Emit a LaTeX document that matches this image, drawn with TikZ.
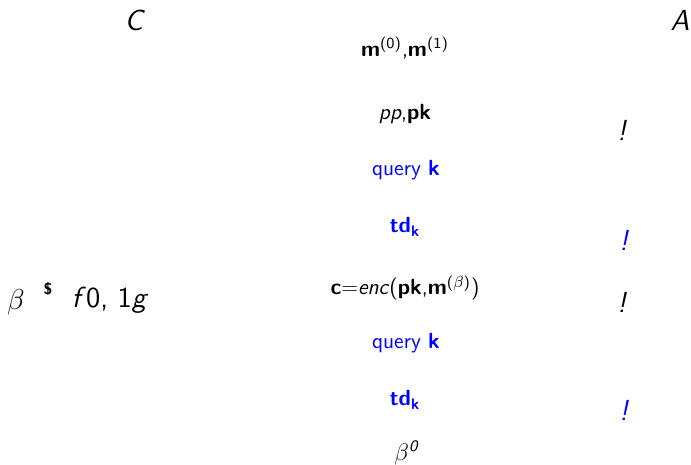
\documentclass[tikz,border=0pt]{standalone}
\begin{document}
\begin{tikzpicture}[x=0.5pt,y=-0.5pt,
  lbl/.style={font=\sffamily\fontsize{11}{13}\selectfont, inner sep=0pt},
  qry/.style={lbl, text=blue},
  party/.style={font=\sffamily\fontsize{14.5}{17}\selectfont, inner sep=0pt},
  bang/.style={party},
  bangq/.style={party, text=blue}]
\useasboundingbox (0,0) rectangle (691,465);

% parties
\node[party] (C) at (135,20) {\textsl{C}};
\node[party] (A) at (680,20) {\textsl{A}};

% challenger's coin
\node[party, font=\fontsize{15}{18}\selectfont] (beta) at (16,302) {$\beta$};
\node[lbl, font=\sffamily\bfseries\fontsize{8}{9}\selectfont] (dollar) at (48,289) {\$};
\node[party] (set) at (110,300) {\textsl{f}0, 1\textsl{g}};

% exchanged messages
\node[lbl] (msgs) at (405,48) {\textbf{m}\textsuperscript{(0)},\textbf{m}\textsuperscript{(1)}};
\node[lbl] (keys) at (405,114) {\textsl{pp},\textbf{pk}};
\node[qry] (q1) at (406,170) {query \textbf{k}};
\node[qry] (td1) at (405,227) {\textbf{td\textsubscript{k}}};
\node[lbl] (ct) at (405,288) {\textbf{c}=\textsl{enc}(\textbf{pk},\textbf{m}\textsuperscript{($\beta$)})};
\node[qry] (q2) at (406,343) {query \textbf{k}};
\node[qry] (td2) at (405,400) {\textbf{td\textsubscript{k}}};
\node[lbl, font=\sffamily\fontsize{12}{14}\selectfont] (guess) at (407,453) {$\beta$\textsuperscript{\textsl{0}}};

% direction marks
\node[bang] (d1) at (622,130) {\textsl{!}};
\node[bangq] (d2) at (624,240) {\textsl{!}};
\node[bang] (d3) at (622,302) {\textsl{!}};
\node[bangq] (d4) at (624,410) {\textsl{!}};
\end{tikzpicture}
\end{document}
